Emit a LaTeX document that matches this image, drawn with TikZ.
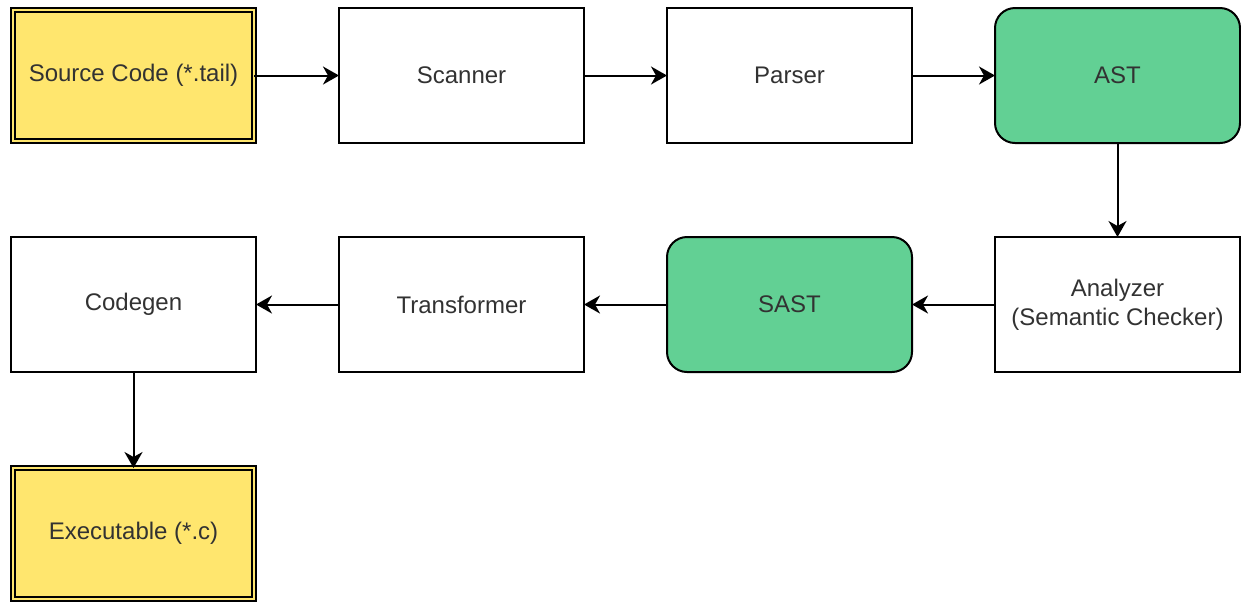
\documentclass[tikz,border=0pt]{standalone}
\usepackage{fontspec}
\setmainfont{Liberation Sans}
\usepackage{tikz}
\usetikzlibrary{positioning,arrows.meta}
\definecolor{fileyel}{RGB}{255,230,110}
\definecolor{astgrn}{RGB}{98,208,148}
\definecolor{txt}{RGB}{50,50,50}

\begin{document}
\begin{tikzpicture}[font=\fontsize{12pt}{14.4pt}\selectfont,>={Stealth[length=8pt,width=9pt,inset=2.5pt]},
  node distance=114.5pt and 164pt,on grid,
  stage/.style={draw,line width=1pt,fill=white,text=txt,outer sep=0pt,minimum width=122.5pt,minimum height=67.5pt,align=center},
  tree/.style={stage,fill=astgrn,rounded corners=10pt},
  file/.style={draw,line width=1pt,double=fileyel,double distance=1pt,fill=fileyel,text=txt,outer sep=0pt,minimum width=120.5pt,minimum height=65.5pt,align=center},
  flow/.style={->,line width=1pt}]
  \useasboundingbox (0,0) rectangle (620.5pt,-301pt);
  % top row: front end
  \node[file] (src) at (66.75pt,-37.75pt) {Source Code (*.tail)};
  \node[stage,right=of src] (scan) {Scanner};
  \node[stage,right=of scan] (parse) {Parser};
  \node[tree,right=of parse] (ast) {AST};
  % middle row: checking and lowering, right to left
  \node[stage,below=of ast] (anlz) {Analyzer\\(Semantic Checker)};
  \node[tree,below=of parse] (sast) {SAST};
  \node[stage,below=of scan] (trans) {Transformer};
  \node[stage,below=of src] (cgen) {Codegen};
  \node[file,below=of cgen] (exe) {Executable (*.c)};
  \draw[flow] (src)--(scan); \draw[flow] (scan)--(parse); \draw[flow] (parse)--(ast);
  \draw[flow] (ast)--(anlz);
  \draw[flow] (anlz)--(sast); \draw[flow] (sast)--(trans); \draw[flow] (trans)--(cgen);
  \draw[flow] (cgen)--(exe);
\end{tikzpicture}
\end{document}
